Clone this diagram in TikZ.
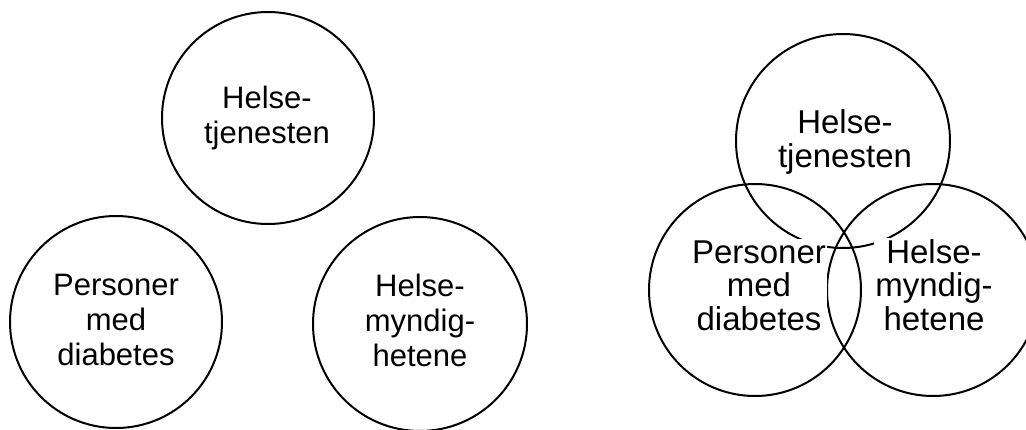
\documentclass[tikz,border=0pt]{standalone}
\usepackage{fontspec}
\setmainfont{Liberation Sans}
\begin{document}
\begin{tikzpicture}[x=0.75pt,y=-0.75pt,
  ring/.style={circle,draw,line width=1.5pt,minimum size=#1,inner sep=0pt},
  lblL/.style={font=\fontsize{23.25pt}{26pt}\selectfont,align=center,anchor=base,inner sep=0pt},
  lblR/.style={font=\fontsize{24.75pt}{25.1pt}\selectfont,align=center,anchor=base,fill=white,inner sep=1pt}]
\useasboundingbox (0,0) rectangle (1026,429);
% left group
\node[ring=159pt] (cT) at (268,118) {};
\node[ring=159pt] (cL) at (116,322) {};
\node[ring=160.5pt] (cR) at (420,324) {};
\node[lblL] (tT) at (267,143) {Helse-\\tjenesten};
\node[lblL] (tL) at (116,365) {Personer\\med\\diabetes};
\node[lblL] (tR) at (420,366) {Helse-\\myndig-\\hetene};
% right group (Venn)
\node[ring=160.5pt] (vT) at (843,141) {};
\node[ring=159pt] (vL) at (755,290) {};
\node[ring=159pt] (vR) at (933,290) {};
\node[lblR] (uT) at (845,167) {Helse-\\tjenesten};
\node[lblR] (uL) at (759,330) {Personer\\med\\diabetes};
\node[lblR] (uR) at (934,330) {Helse-\\myndig-\\hetene};
\end{tikzpicture}
\end{document}
